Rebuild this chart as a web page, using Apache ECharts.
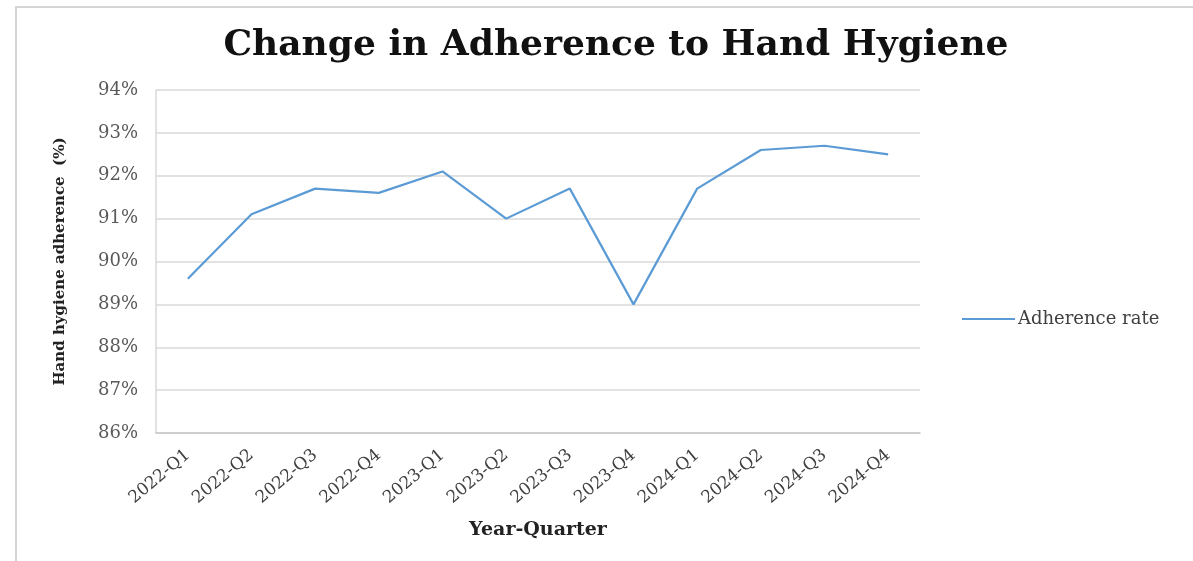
<!DOCTYPE html>
<html>
<head>
<meta charset="utf-8">
<title>Change in Adherence to Hand Hygiene</title>
<style>
  html, body { margin: 0; padding: 0; background: #fff; }
  #chart { width: 1193px; height: 561px; }
</style>
<script src="https://cdn.jsdelivr.net/npm/echarts@6/dist/echarts.min.js"></script>
</head>
<body>
<div id="chart"></div>
<script>
// data
var quarters = ['2022-Q1', '2022-Q2', '2022-Q3', '2022-Q4',
                '2023-Q1', '2023-Q2', '2023-Q3', '2023-Q4',
                '2024-Q1', '2024-Q2', '2024-Q3', '2024-Q4'];
var adherence = [89.6, 91.1, 91.7, 91.6, 92.1, 91.0, 91.7, 89.0, 91.7, 92.6, 92.7, 92.5];
var seriesName = 'Adherence rate';

// the picture is a bit stretched sideways, a wide serif fits it better than Times
var serif = '"DejaVu Serif", "Liberation Serif", serif';

var chart = echarts.init(document.getElementById('chart'));
chart.setOption({
  animation: false,
  textStyle: { fontFamily: serif },
  title: {
    text: 'Change in Adherence to Hand Hygiene',
    left: 611,
    textAlign: 'center',
    top: 23,
    textStyle: { fontFamily: serif, fontSize: 36, fontWeight: 'bold', color: '#111' }
  },
  graphic: [{
    type: 'rect',
    shape: { x: 16, y: 7, width: 1200, height: 600 },
    style: { fill: 'none', stroke: '#d4d4d4', lineWidth: 2 },
    silent: true
  }],
  legend: {
    left: 957,
    top: 305,
    itemWidth: 53,
    itemHeight: 2,
    itemGap: 4,
    icon: 'rect',
    data: [seriesName],
    textStyle: { fontFamily: serif, fontSize: 18, color: '#404040', padding: [0, 0, 0, -2] }
  },
  grid: { left: 156, right: 273, top: 90, bottom: 128, containLabel: false },
  xAxis: {
    type: 'category',
    data: quarters,
    boundaryGap: true,
    name: 'Year-Quarter',
    nameLocation: 'middle',
    nameGap: 88,
    nameTextStyle: { fontFamily: serif, fontSize: 19, fontWeight: 'bold', color: '#222' },
    axisLine: { lineStyle: { color: '#c8c8c8', width: 1.5 } },
    axisTick: { show: false },
    axisLabel: {
      interval: 0,
      rotate: 40,
      margin: 20,
      fontFamily: serif,
      fontSize: 17,
      color: '#404040'
    }
  },
  yAxis: {
    type: 'value',
    min: 86,
    max: 94,
    interval: 1,
    name: 'Hand hygiene adherence  (%)',
    nameLocation: 'middle',
    nameGap: 88,
    nameTextStyle: { fontFamily: serif, fontSize: 15, fontWeight: 'bold', color: '#222' },
    axisLine: { show: true, lineStyle: { color: '#d9d9d9', width: 1.5 } },
    axisTick: { show: false },
    axisLabel: {
      margin: 18,
      fontFamily: serif,
      fontSize: 18,
      color: '#595959',
      formatter: function (v) { return v + '%'; }
    },
    splitLine: { lineStyle: { color: '#d9d9d9', width: 1.5 } }
  },
  series: [{
    name: seriesName,
    type: 'line',
    data: adherence,
    symbol: 'none',
    lineStyle: { color: '#5b9bd5', width: 2.2 },
    itemStyle: { color: '#5b9bd5' }
  }]
});
</script>
</body>
</html>
